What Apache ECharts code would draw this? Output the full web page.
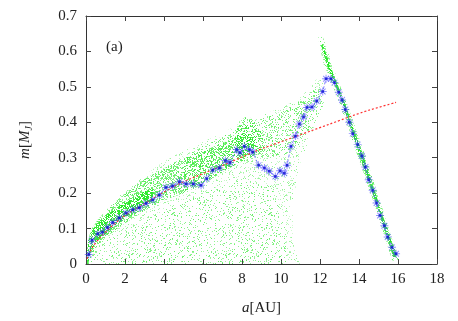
<!DOCTYPE html>
<html>
<head>
<meta charset="utf-8">
<script src="https://cdn.jsdelivr.net/npm/echarts@6/dist/echarts.min.js"></script>
<style>
  html, body { margin: 0; padding: 0; background: #fff; }
  #chart { width: 458px; height: 321px; }
</style>
</head>
<body>
<div id="chart"></div>
<script>
// blue line with star markers: a [AU], m [MJ]
const blueA = [0.14, 0.31, 0.6, 0.85, 1.1, 1.37, 1.7, 2.05, 2.4, 2.73, 3.08, 3.42, 3.76, 4.1, 4.44, 4.79,
  5.13, 5.5, 5.9, 6.19, 6.5, 6.84, 7.15, 7.38, 7.73, 7.9, 8.12, 8.38, 8.55, 8.85, 9.15, 9.4, 9.71,
  9.95, 10.17, 10.31, 10.51, 10.74, 10.94, 11.16, 11.33, 11.59, 11.83, 12.14, 12.31, 12.56, 12.74,
  12.96, 13.13, 13.3, 13.5, 13.68, 13.93, 14.15, 14.33, 14.5, 14.7, 14.9, 15.08, 15.3, 15.47, 15.69, 15.9];
const blueM = [0.027, 0.067, 0.085, 0.09, 0.103, 0.117, 0.13, 0.144, 0.153, 0.159, 0.171, 0.181, 0.195, 0.216, 0.22, 0.232,
  0.226, 0.226, 0.222, 0.241, 0.265, 0.271, 0.292, 0.286, 0.323, 0.314, 0.332, 0.323, 0.316, 0.279, 0.271, 0.262, 0.247,
  0.263, 0.256, 0.279, 0.332, 0.361, 0.395, 0.415, 0.442, 0.443, 0.46, 0.487, 0.523, 0.523, 0.512,
  0.485, 0.463, 0.436, 0.4, 0.368, 0.337, 0.305, 0.274, 0.238, 0.208, 0.172, 0.137, 0.108, 0.076, 0.047, 0.029];

// red dotted fit curve
const redA = [0.05, 0.2, 0.5, 1, 1.5, 2, 3, 4, 5, 6, 7, 8, 9, 10, 11, 12, 13, 14, 15, 15.9];
const redM = [0.015, 0.035, 0.06, 0.09, 0.115, 0.137, 0.17, 0.203, 0.232, 0.255, 0.278, 0.302, 0.325, 0.345,
  0.365, 0.385, 0.405, 0.425, 0.442, 0.456];

// green particle cloud, outlines of density zones [a, m]
const cloudSparse = [[0, 0], [0.05, 0.03], [0.15, 0.07], [0.3, 0.095], [0.6, 0.12], [1, 0.15], [1.5, 0.18],
  [2, 0.21], [3, 0.25], [4, 0.29], [5, 0.32], [6, 0.345], [7, 0.37], [8, 0.4], [9, 0.42], [10, 0.44],
  [11, 0.47], [11.8, 0.52], [12.2, 0.52], [12.3, 0.46], [11.5, 0.36], [10.9, 0.27], [10.6, 0.17],
  [10.6, 0.08], [10.9, 0.03], [11.0, 0]];
const cloudLowFade = [[0, 0], [0.5, 0.05], [2, 0.1], [4, 0.15], [6, 0.2], [8, 0.24], [9.5, 0.22], [10.2, 0.12], [10.3, 0]];
const cloudUpper = [[5, 0.3], [6, 0.335], [7, 0.36], [8, 0.39], [9, 0.41], [10, 0.43], [11, 0.46], [11.8, 0.5],
  [12.2, 0.5], [12.2, 0.45], [11.5, 0.37], [10.8, 0.33], [10, 0.3], [9, 0.3], [8, 0.29], [7, 0.26], [6, 0.23], [5, 0.2]];
const cloudMid = [[0.02, 0.02], [0.1, 0.065], [0.3, 0.1], [0.6, 0.125], [1, 0.15], [1.5, 0.175], [2, 0.2],
  [3, 0.24], [4, 0.27], [5, 0.3], [6, 0.32], [7, 0.34], [8, 0.37], [9, 0.38], [9.2, 0.32], [8, 0.29],
  [7, 0.26], [6, 0.225], [5, 0.2], [4, 0.18], [3, 0.15], [2, 0.115], [1, 0.075], [0.5, 0.045], [0.2, 0.01], [0.1, 0]];
const cloudDense = [[0.05, 0], [0.08, 0.05], [0.2, 0.085], [0.5, 0.11], [1, 0.137], [1.5, 0.155], [2, 0.175],
  [2.5, 0.19], [3, 0.205], [3.5, 0.215], [3.5, 0.18], [3, 0.165], [2, 0.13], [1, 0.085], [0.5, 0.06], [0.2, 0.03], [0.12, 0]];
const cloudBlob = [[7.6, 0.34], [7.8, 0.4], [8.3, 0.42], [8.8, 0.39], [8.8, 0.33], [8.2, 0.31]];
const diagHalo = [[11.9, 0.64], [12.2, 0.56], [12.9, 0.47], [13.9, 0.31], [14.9, 0.15], [15.7, 0.01],
  [16.05, 0.01], [15.3, 0.14], [14.3, 0.31], [13.4, 0.45], [12.7, 0.55], [12.15, 0.64]];
const diagBand = [[12.05, 0.62], [12.35, 0.56], [13.05, 0.47], [14.0, 0.31], [15.0, 0.15], [15.75, 0.02],
  [15.95, 0.02], [15.2, 0.14], [14.2, 0.31], [13.3, 0.45], [12.6, 0.55], [12.15, 0.62]];

const serif = '"Liberation Serif", "DejaVu Serif", serif';

// speckle texture so the zones look like a dot cloud (decoration only)
function speckle(density, alphaMin, alphaMax) {
  const w = 97, h = 89;
  const c = document.createElement('canvas');
  c.width = w; c.height = h;
  const ctx = c.getContext('2d');
  const out = ctx.createImageData(w, h);
  for (let y = 0; y < h; y++) {
    for (let x = 0; x < w; x++) {
      const s = Math.sin(x * 12.9898 + y * 78.233) * 43758.5453;
      const t = s - Math.floor(s);
      if (t < density) {
        const k = (y * w + x) * 4;
        const u = t / density;
        out.data[k] = 20; out.data[k + 1] = 230; out.data[k + 2] = 20;
        out.data[k + 3] = Math.round(255 * (alphaMin + (alphaMax - alphaMin) * u));
      }
    }
  }
  ctx.putImageData(out, 0, 0);
  return { image: c, repeat: 'repeat' };
}

function zone(poly, fill) {
  return {
    type: 'custom',
    data: poly,
    silent: true,
    clip: true,
    z: 1,
    renderItem(params, api) {
      if (params.dataIndex !== 0) return;
      return {
        type: 'polygon',
        shape: { points: poly.map(p => api.coord(p)) },
        style: { fill: fill }
      };
    }
  };
}

const axisLineStyle = { color: '#333', width: 1 };
const tick = { inside: true, length: 5, lineStyle: { color: '#444' } };
const blueData = blueA.map((a, i) => [a, blueM[i]]);

const chart = echarts.init(document.getElementById('chart'));
chart.setOption({
  animation: false,
  backgroundColor: '#fff',
  grid: { left: 86, right: 21, top: 16, bottom: 45, containLabel: false },
  xAxis: [
    {
      type: 'value', min: 0, max: 18, interval: 2, position: 'bottom',
      axisLine: { show: true, onZero: false, lineStyle: axisLineStyle },
      axisTick: tick, splitLine: { show: false },
      axisLabel: { fontFamily: serif, fontSize: 15, color: '#222', margin: 8 },
      name: '{i|a}[AU]', nameLocation: 'middle', nameGap: 37,
      nameTextStyle: {
        fontFamily: serif, fontSize: 15, color: '#222',
        rich: { i: { fontFamily: serif, fontSize: 15, fontStyle: 'italic', color: '#222' } }
      }
    },
    {
      type: 'value', min: 0, max: 18, interval: 2, position: 'top',
      axisLine: { show: true, onZero: false, lineStyle: axisLineStyle },
      axisTick: tick, axisLabel: { show: false }, splitLine: { show: false }
    }
  ],
  yAxis: [
    {
      type: 'value', min: 0, max: 0.7, interval: 0.1, position: 'left',
      axisLine: { show: true, onZero: false, lineStyle: axisLineStyle },
      axisTick: tick, splitLine: { show: false },
      axisLabel: {
        fontFamily: serif, fontSize: 15, color: '#222', margin: 9,
        formatter: v => (v === 0 ? '0' : v.toFixed(1))
      },
      name: '{i|m}[{i|M}{s|J}]', nameLocation: 'middle', nameGap: 52, nameRotate: 90,
      nameTextStyle: {
        fontFamily: serif, fontSize: 15, color: '#222',
        rich: {
          i: { fontFamily: serif, fontSize: 15, fontStyle: 'italic', color: '#222' },
          s: { fontFamily: serif, fontSize: 10, fontStyle: 'italic', color: '#222', padding: [8, 0, 0, 0] }
        }
      }
    },
    {
      type: 'value', min: 0, max: 0.7, interval: 0.1, position: 'right',
      axisLine: { show: true, onZero: false, lineStyle: axisLineStyle },
      axisTick: tick, axisLabel: { show: false }, splitLine: { show: false }
    }
  ],
  graphic: [
    { type: 'text', left: 106, top: 40, style: { text: '(a)', font: '15px ' + serif, fill: '#222' } }
  ],
  series: [
    zone(cloudSparse, speckle(0.12, 0.2, 0.5)),
    zone(cloudLowFade, speckle(0.08, 0.2, 0.45)),
    zone(cloudUpper, speckle(0.22, 0.25, 0.6)),
    zone(cloudMid, speckle(0.45, 0.3, 0.75)),
    zone(cloudDense, speckle(0.6, 0.45, 0.95)),
    zone(cloudBlob, speckle(0.35, 0.3, 0.8)),
    zone(diagHalo, speckle(0.3, 0.3, 0.7)),
    zone(diagBand, speckle(0.75, 0.55, 1)),
    {
      type: 'line',
      data: redA.map((a, i) => [a, redM[i]]),
      showSymbol: false, smooth: true, z: 3, silent: true,
      lineStyle: { color: '#ff3030', width: 1.2, type: [2, 2] }
    },
    {
      type: 'line',
      data: blueData,
      z: 4, silent: true,
      symbol: 'path://M-5,-0.6L5,-0.6L5,0.6L-5,0.6Z M0.6,-5L0.6,5L-0.6,5L-0.6,-5Z M-3.18,-4.02L4.02,3.18L3.18,4.02L-4.02,-3.18Z M-4.02,3.18L3.18,-4.02L4.02,-3.18L-3.18,4.02Z',
      symbolSize: 8,
      itemStyle: { color: 'rgba(70,70,255,0.6)' },
      lineStyle: { color: 'rgba(70,70,255,0.7)', width: 1, type: [3, 2] }
    },
    {
      type: 'scatter',
      data: blueData,
      z: 5, silent: true,
      symbol: 'rect', symbolSize: 2.5,
      itemStyle: { color: '#1010d0' }
    }
  ]
});
</script>
</body>
</html>
